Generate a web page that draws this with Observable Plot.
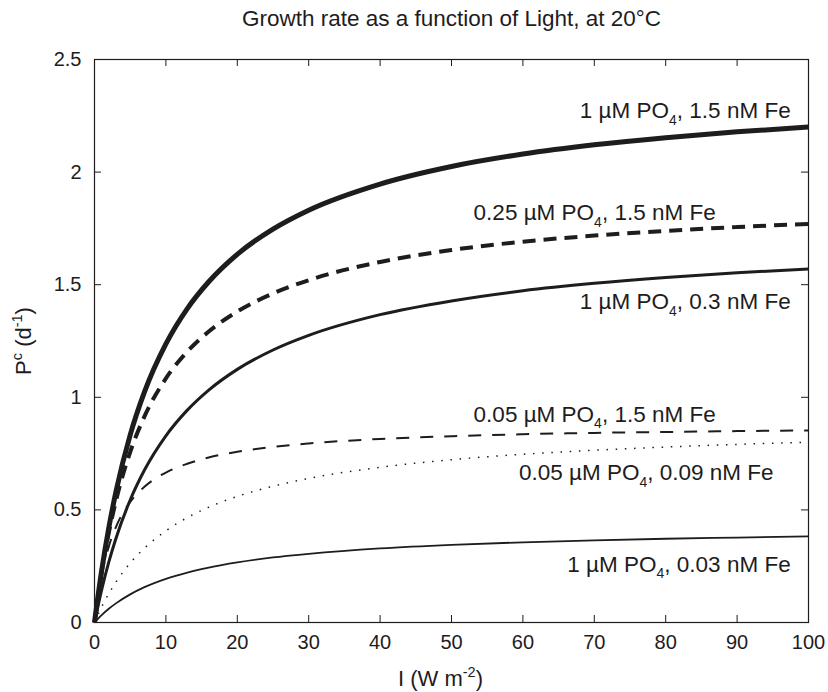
<!DOCTYPE html>
<html>
<head>
<meta charset="utf-8">
<script src="https://cdn.jsdelivr.net/npm/d3@7"></script>
<script src="https://cdn.jsdelivr.net/npm/@observablehq/plot@0.6"></script>
<style>
  html, body { margin: 0; padding: 0; background: #ffffff; }
  #chart svg { display: block; }
</style>
</head>
<body>
<div id="chart"></div>
<script>
// ---------------- DATA ----------------
const lightI = [0, 1, 2, 3, 5, 7, 10, 13, 16, 20, 25, 30, 40, 50, 60, 70, 80, 90, 100];

// Growth rate P^c (d^-1) for each nutrient condition
const pc_1PO4_1p5Fe    = [0, 0.230, 0.420, 0.580, 0.833, 1.024, 1.237, 1.394, 1.513, 1.635, 1.747, 1.831, 1.947, 2.025, 2.080, 2.121, 2.153, 2.179, 2.200];
const pc_025PO4_1p5Fe  = [0, 0.222, 0.398, 0.540, 0.757, 0.915, 1.084, 1.203, 1.292, 1.381, 1.461, 1.520, 1.601, 1.654, 1.691, 1.718, 1.739, 1.756, 1.770];
const pc_1PO4_0p3Fe    = [0, 0.145, 0.268, 0.373, 0.544, 0.677, 0.829, 0.943, 1.032, 1.124, 1.210, 1.275, 1.367, 1.428, 1.473, 1.506, 1.532, 1.553, 1.570];
const pc_005PO4_1p5Fe  = [0, 0.208, 0.337, 0.424, 0.535, 0.603, 0.666, 0.705, 0.733, 0.758, 0.780, 0.795, 0.815, 0.827, 0.836, 0.842, 0.846, 0.850, 0.853];
const pc_005PO4_0p09Fe = [0, 0.069, 0.128, 0.179, 0.264, 0.330, 0.407, 0.466, 0.512, 0.560, 0.605, 0.640, 0.689, 0.723, 0.747, 0.765, 0.779, 0.791, 0.800];
const pc_1PO4_0p03Fe   = [0, 0.033, 0.061, 0.085, 0.125, 0.157, 0.194, 0.222, 0.244, 0.267, 0.289, 0.305, 0.329, 0.345, 0.356, 0.365, 0.372, 0.377, 0.382];

const seriesLabels = [
  "1 µM PO₄, 1.5 nM Fe",
  "0.25 µM PO₄, 1.5 nM Fe",
  "1 µM PO₄, 0.3 nM Fe",
  "0.05 µM PO₄, 1.5 nM Fe",
  "0.05 µM PO₄, 0.09 nM Fe",
  "1 µM PO₄, 0.03 nM Fe"
];

const xTicks = [0, 10, 20, 30, 40, 50, 60, 70, 80, 90, 100];
const xTickLabels = ["0", "10", "20", "30", "40", "50", "60", "70", "80", "90", "100"];
const yTicks = [0, 0.5, 1, 1.5, 2, 2.5];
const yTickLabels = ["0", "0.5", "1", "1.5", "2", "2.5"];

const titleText = "Growth rate as a function of Light, at 20°C";
const xAxisLabel = "I (W m⁻²)";
const yAxisLabel = "Pᶜ (d⁻¹)";

// ---------------- STYLE / LAYOUT ----------------
const ink = "#1e1c1d";
const font = "'Liberation Sans', Arial, Helvetica, sans-serif";
const W = 828, H = 692;
const M = {top: 59, right: 20, bottom: 70, left: 94};
const plotW = W - M.left - M.right;
const plotH = H - M.top - M.bottom;
const tickLen = 7;

const curveStyles = [
  {w: 5.0, dash: null},
  {w: 4.0, dash: "13,8"},
  {w: 3.0, dash: null},
  {w: 2.0, dash: "13,11"},
  {w: 1.5, dash: "1.5,7.7"},
  {w: 1.8, dash: null}
];
// label placement (x = right end of label in data units, y = vertical centre in data units)
const labelPlacement = [
  {x: 97.5, y: 2.271},
  {x: 87.0, y: 1.818},
  {x: 97.5, y: 1.425},
  {x: 87.0, y: 0.924},
  {x: 95.1, y: 0.664},
  {x: 97.5, y: 0.258}
];

const seriesValues = [pc_1PO4_1p5Fe, pc_025PO4_1p5Fe, pc_1PO4_0p3Fe, pc_005PO4_1p5Fe, pc_005PO4_0p09Fe, pc_1PO4_0p03Fe];

const marks = [];

// inward ticks on all four sides
marks.push(Plot.tickX(xTicks, {x: d => d, stroke: ink, strokeWidth: 1, insetTop: plotH - tickLen}));
marks.push(Plot.tickX(xTicks, {x: d => d, stroke: ink, strokeWidth: 1, insetBottom: plotH - tickLen}));
marks.push(Plot.tickY(yTicks, {y: d => d, stroke: ink, strokeWidth: 1, insetRight: plotW - tickLen}));
marks.push(Plot.tickY(yTicks, {y: d => d, stroke: ink, strokeWidth: 1, insetLeft: plotW - tickLen}));

// curves
seriesValues.forEach((vals, s) => {
  const rows = lightI.map((I, i) => ({I, P: vals[i]}));
  marks.push(Plot.line(rows, {
    x: "I", y: "P",
    stroke: ink,
    strokeWidth: curveStyles[s].w,
    strokeDasharray: curveStyles[s].dash,
    strokeLinecap: "butt",
    strokeLinejoin: "round",
    curve: "monotone-x"
  }));
});

// curve labels
const labelRows = seriesLabels.map((t, s) => ({t, x: labelPlacement[s].x, y: labelPlacement[s].y}));
marks.push(Plot.text(labelRows, {
  x: "x", y: "y", text: "t",
  textAnchor: "end", lineAnchor: "middle",
  fontSize: 22.5, fill: ink
}));

// frame
marks.push(Plot.frame({stroke: ink, strokeWidth: 1.2}));

// tick labels
marks.push(Plot.axisX({
  ticks: xTicks, tickSize: 0, tickPadding: 12,
  tickFormat: d => xTickLabels[xTicks.indexOf(d)],
  label: null, fontSize: 20, fill: ink
}));
marks.push(Plot.axisY({
  ticks: yTicks, tickSize: 0, tickPadding: 13,
  tickFormat: d => yTickLabels[yTicks.indexOf(d)],
  label: null, fontSize: 20, fill: ink
}));

// axis titles + chart title
marks.push(Plot.text([xAxisLabel], {text: d => d, frameAnchor: "bottom", textAnchor: "middle", lineAnchor: "middle", dx: -11, dy: 56, fontSize: 22, fill: ink}));
marks.push(Plot.text([yAxisLabel], {text: d => d, frameAnchor: "left", textAnchor: "middle", lineAnchor: "middle", dx: -71, rotate: -90, fontSize: 22, fill: ink}));
marks.push(Plot.text([titleText], {text: d => d, frameAnchor: "top", textAnchor: "middle", lineAnchor: "middle", dy: -41, fontSize: 22.5, fill: ink}));

const svg = Plot.plot({
  width: W, height: H,
  marginTop: M.top, marginRight: M.right, marginBottom: M.bottom, marginLeft: M.left,
  x: {domain: [0, 100]},
  y: {domain: [0, 2.5]},
  style: {fontFamily: font, fontSize: "20px", color: ink, background: "#ffffff"},
  marks
});
document.getElementById("chart").appendChild(svg);

// turn unicode super/subscripts into real tspans (keeps text as text)
const SUP = {"ᶜ": "c", "⁻": "-", "¹": "1", "²": "2"};
const SUB = {"₄": "4"};
svg.querySelectorAll("text").forEach(t => {
  if (t.querySelector("tspan")) return;
  const s = t.textContent;
  if (![...s].some(c => SUP[c] || SUB[c])) return;
  const fs = parseFloat(getComputedStyle(t).fontSize) || 20;
  const runs = [];
  for (const c of s) {
    const type = SUP[c] ? "sup" : SUB[c] ? "sub" : "n";
    const ch = SUP[c] || SUB[c] || c;
    if (runs.length && runs[runs.length - 1].type === type) runs[runs.length - 1].txt += ch;
    else runs.push({type, txt: ch});
  }
  t.textContent = "";
  let shift = 0;
  runs.forEach(r => {
    const sp = document.createElementNS("http://www.w3.org/2000/svg", "tspan");
    let target = 0;
    if (r.type === "sup") { target = -0.40 * fs; sp.setAttribute("font-size", (0.66 * fs) + "px"); }
    if (r.type === "sub") { target = 0.30 * fs; sp.setAttribute("font-size", (0.62 * fs) + "px"); }
    const dy = target - shift;
    if (dy !== 0) sp.setAttribute("dy", dy + "px");
    shift = target;
    sp.textContent = r.txt;
    t.appendChild(sp);
  });
});
</script>
</body>
</html>
